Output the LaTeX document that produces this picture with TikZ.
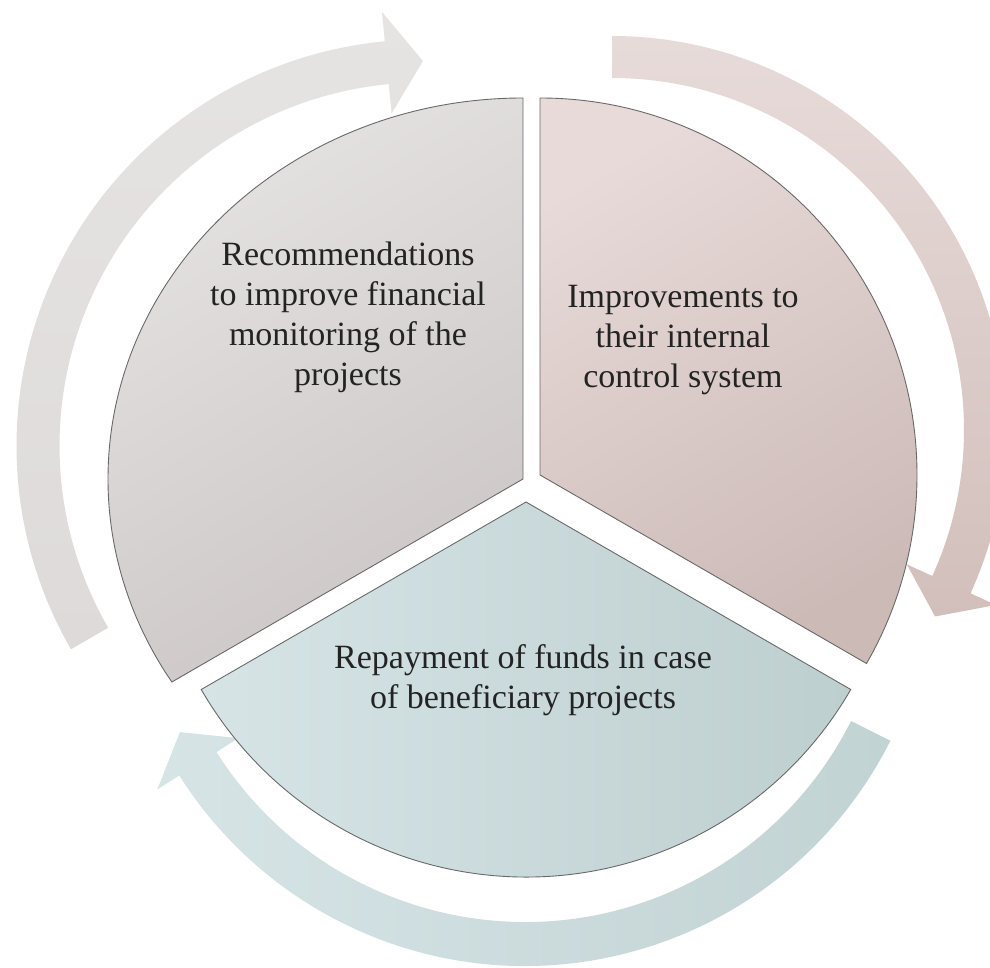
\documentclass[tikz,border=0pt]{standalone}
\usepackage{fontspec}
\setmainfont{Liberation Serif}
\definecolor{secLa}{RGB}{229,226,226}
\definecolor{secLb}{RGB}{204,198,198}
\definecolor{secRa}{RGB}{231,218,216}
\definecolor{secRb}{RGB}{204,186,183}
\definecolor{secBa}{RGB}{214,228,230}
\definecolor{secBb}{RGB}{190,207,208}
\definecolor{arrLa}{RGB}{230,227,227}
\definecolor{arrLb}{RGB}{222,218,218}
\definecolor{arrRa}{RGB}{231,219,217}
\definecolor{arrRb}{RGB}{210,191,187}
\definecolor{arrBa}{RGB}{214,228,230}
\definecolor{arrBb}{RGB}{194,211,212}
\definecolor{edge}{RGB}{105,105,105}
\definecolor{txt}{RGB}{35,35,35}
\begin{document}
\begin{tikzpicture}[x=1pt,y=1pt,
  sector/.style={draw=edge, line width=0.9pt, line join=miter},
  lbl/.style={align=center, text=txt, font=\fontsize{34}{40}\selectfont}]
\useasboundingbox (0,0) rectangle (990,967);

% ---- circular arrows ----
\begin{scope}[shift={(423,521)}]
  \coordinate (cL) at (0,0);
  \shade[top color=arrLa, bottom color=arrLb]
    (210:406.5) arc[start angle=210, end angle=95.4, radius=406.5]
    -- (95.4:436) -- (90:385) -- (95.4:334) -- (95.4:363.5)
    arc[start angle=95.4, end angle=210, radius=363.5] -- cycle;
\end{scope}
\begin{scope}[shift={(612,537)}]
  \coordinate (cR) at (0,0);
  \shade[top color=arrRa, bottom color=arrRb]
    (90:394) arc[start angle=90, end angle=-24.5, radius=394]
    -- (-24.5:422) -- (-30:373) -- (-24.5:324) -- (-24.5:352)
    arc[start angle=-24.5, end angle=90, radius=352] -- cycle;
\end{scope}
\begin{scope}[shift={(525,410)}]
  \coordinate (cB) at (0,0);
  \shade[left color=arrBa, right color=arrBb]
    (-26.7:409) arc[start angle=-26.7, end angle=-147.7, radius=409]
    -- (-147.7:435) -- (-153.1:387) -- (-147.7:339) -- (-147.7:365)
    arc[start angle=-147.7, end angle=-26.7, radius=365] -- cycle;
\end{scope}

% ---- sectors ----
\begin{scope}[shift={(523,488)}]
  \coordinate (pL) at (0,0);
  \shadedraw[sector, top color=secLa, bottom color=secLb, shading angle=30]
    (0,0) -- (0,381) arc[start angle=90, end angle=212.2, x radius=415, y radius=381] -- cycle;
\end{scope}
\begin{scope}[shift={(540,492)}]
  \coordinate (pR) at (0,0);
  \shadedraw[sector, top color=secRa, bottom color=secRb, shading angle=30]
    (0,0) -- (90:377) arc[start angle=90, end angle=-30, radius=377] -- cycle;
\end{scope}
\begin{scope}[shift={(526,465)}]
  \coordinate (pB) at (0,0);
  \shadedraw[sector, left color=secBa, right color=secBb]
    (0,0) -- (210:375) arc[start angle=210, end angle=330, radius=375] -- cycle;
\end{scope}

% ---- labels ----
\node[lbl] (tL) at (348,650) {Recommendations\\to improve financial\\monitoring of the\\projects};
\node[lbl] (tR) at (683,627) {Improvements to\\their internal\\control system};
\node[lbl] (tB) at (523,287) {Repayment of funds in case\\of beneficiary projects};
\end{tikzpicture}
\end{document}
